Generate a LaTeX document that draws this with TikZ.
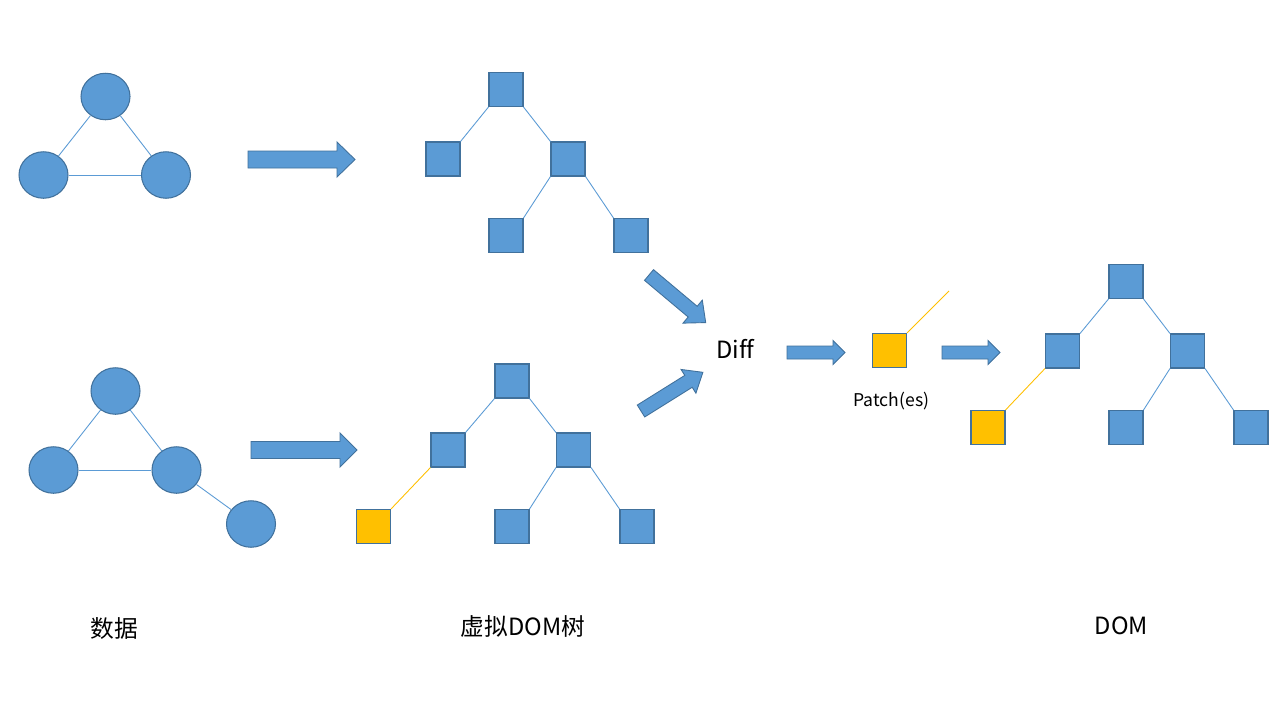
\documentclass[tikz,border=0pt]{standalone}
\usepackage{fontspec}
\setmainfont{Noto Sans CJK SC}
\usetikzlibrary{shapes.geometric}
\definecolor{bfill}{HTML}{5B9BD5}
\definecolor{bdraw}{HTML}{41719C}
\definecolor{yfill}{HTML}{FFC000}
\tikzset{
  circ/.style={ellipse, fill=bfill, draw=bdraw, line width=0.6pt, minimum width=0.98cm, minimum height=0.93cm, inner sep=0pt},
  bsq/.style={rectangle, fill=bfill, draw=bdraw, line width=0.6pt, minimum size=0.68cm, inner sep=0pt},
  ysq/.style={rectangle, fill=yfill, draw=bdraw, line width=0.6pt, minimum size=0.68cm, inner sep=0pt},
  bedge/.style={draw=bfill, line width=0.5pt},
  yedge/.style={draw=yfill, line width=0.5pt},
  arrowstyle/.style={fill=bfill, draw=bdraw, line width=0.5pt, line join=miter},
  lbl/.style={font=\fontsize{13.5pt}{16pt}\selectfont, inner sep=0pt},
  smlbl/.style={font=\fontsize{10pt}{12pt}\selectfont, inner sep=0pt},
  pics/blockarrow/.style n args={4}{code={
    \path[arrowstyle] (0,-#2) -- ({#1-#4},-#2) -- ({#1-#4},-#3) -- (#1,0) -- ({#1-#4},#3) -- ({#1-#4},#2) -- (0,#2) -- cycle;
  }}
}
\begin{document}
\begin{tikzpicture}[x=0.02cm, y=-0.02cm]
\useasboundingbox[fill=white] (0,0) rectangle (1280,720);

% top data graph
\node[circ] (ta) at (105.5,96.5) {};
\node[circ] (tb) at (43.5,175) {};
\node[circ] (tc) at (166,175) {};
\draw[bedge] (ta) -- (tb);
\draw[bedge] (ta) -- (tc);
\draw[bedge] (tb) -- (tc);

% bottom data graph
\node[circ] (ba) at (115.5,391) {};
\node[circ] (bb) at (53.5,470) {};
\node[circ] (bc) at (176.5,470) {};
\node[circ] (bd) at (251,524) {};
\draw[bedge] (ba) -- (bb);
\draw[bedge] (ba) -- (bc);
\draw[bedge] (bb) -- (bc);
\draw[bedge] (bc) -- (bd);

% arrows data -> vdom
\pic at (248,159.5) {blockarrow={107}{8.5}{17.5}{18}};
\pic at (251,450) {blockarrow={106}{8.5}{17}{17}};

% top virtual DOM tree
\node[bsq] (t1) at (506,89.5) {};
\node[bsq] (t2) at (443,159) {};
\node[bsq] (t3) at (568,159) {};
\node[bsq] (t4) at (506,235.5) {};
\node[bsq] (t5) at (631,235.5) {};
\draw[bedge] (t1.south west) -- (t2.north east);
\draw[bedge] (t1.south east) -- (t3.north west);
\draw[bedge] (t3.south west) -- (t4.north east);
\draw[bedge] (t3.south east) -- (t5.north west);

% bottom virtual DOM tree
\node[bsq] (v1) at (512,381) {};
\node[bsq] (v2) at (448,450) {};
\node[bsq] (v3) at (573.5,450) {};
\node[ysq] (v6) at (373.5,526.5) {};
\node[bsq] (v4) at (512,526.5) {};
\node[bsq] (v5) at (637,526.5) {};
\draw[bedge] (v1.south west) -- (v2.north east);
\draw[bedge] (v1.south east) -- (v3.north west);
\draw[bedge] (v3.south west) -- (v4.north east);
\draw[bedge] (v3.south east) -- (v5.north west);
\draw[yedge] (v2.south west) -- (v6.north east);

% diagonal arrows to Diff
\pic[rotate=-40] at (649,275) {blockarrow={74}{7}{15}{17}};
\pic[rotate=32] at (641,411) {blockarrow={73}{7}{14}{17}};

\node[lbl] (diff) at (735.5,349) {Dif\kern0pt f};

% Diff -> patch
\pic at (787,352.5) {blockarrow={58}{6.5}{12}{12}};
\node[ysq] (p) at (889.5,350.5) {};
\coordinate (pend) at (949,291);
\draw[yedge] (p.north east) -- (pend);
\node[smlbl] (plbl) at (891.5,401) {Patch(es)};

% patch -> DOM
\pic at (942,352.5) {blockarrow={58}{6.5}{12}{12}};

% real DOM tree
\node[bsq] (d1) at (1126,281.5) {};
\node[bsq] (d2) at (1062.5,351) {};
\node[bsq] (d3) at (1187.5,351) {};
\node[ysq] (d6) at (988,427.5) {};
\node[bsq] (d4) at (1126,427.5) {};
\node[bsq] (d5) at (1251,427.5) {};
\draw[bedge] (d1.south west) -- (d2.north east);
\draw[bedge] (d1.south east) -- (d3.north west);
\draw[bedge] (d3.south west) -- (d4.north east);
\draw[bedge] (d3.south east) -- (d5.north west);
\draw[yedge] (d2.south west) -- (d6.north east);

% labels
\node[lbl] (l1) at (114,628) {数据};
\node[lbl] (l2) at (523,626) {虚拟DOM树};
\node[lbl] (l3) at (1121.5,626) {DOM};
\end{tikzpicture}
\end{document}
